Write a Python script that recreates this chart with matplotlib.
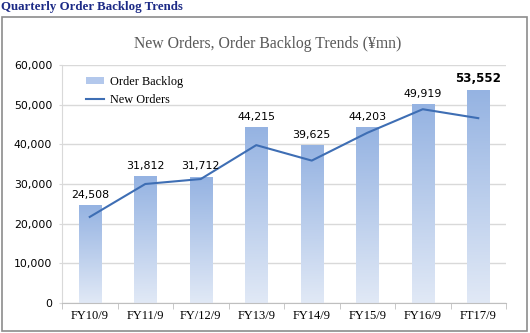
import numpy as np
import matplotlib.pyplot as plt
from matplotlib.colors import LinearSegmentedColormap
from matplotlib.patches import Rectangle, Patch
from matplotlib.lines import Line2D
from matplotlib.ticker import FuncFormatter, FixedLocator

# quarterly figures, in millions of yen
periods = ["FY10/9", "FY11/9", "FY/12/9", "FY13/9", "FY14/9", "FY15/9", "FY16/9", "FT17/9"]
backlog = [24508, 31812, 31712, 44215, 39625, 44203, 49919, 53552]
new_orders = [21700, 30000, 31250, 39800, 35900, 42900, 48850, 46600]

serif = "Liberation Serif"
sans = "DejaVu Sans"
bar_cmap = LinearSegmentedColormap.from_list("bar", ["#e1e9f6", "#95b3e2"])

fig = plt.figure(figsize=(5.3, 3.33), dpi=100)
ax = fig.add_axes([62 / 530, 1 - 303 / 333, 444 / 530, 238 / 333])

# outer frame of the panel
fig.patches.append(Rectangle((2 / 530, 2 / 333), 525 / 530, 314 / 333,
                             transform=fig.transFigure, fill=False,
                             edgecolor="#8c8c8c", linewidth=1.2))

fig.text(1 / 530, 1 - 7 / 333, "Quarterly Order Backlog Trends", family=serif,
         fontweight="bold", fontsize=9.3, color="#1c2a86", ha="left", va="center")
fig.text(268 / 530, 1 - 44 / 333, "New Orders, Order Backlog Trends (\u00a5mn)",
         family=serif, fontsize=11.3, color="#595959", ha="center", va="center")

x = np.arange(len(periods))
w = 0.4
grad = np.linspace(0, 1, 256).reshape(-1, 1)
for xi, v in zip(x, backlog):
    ax.imshow(grad, cmap=bar_cmap, origin="lower", aspect="auto",
              extent=[xi - w / 2, xi + w / 2, 0, v], zorder=2)

ax.plot(x, new_orders, color="#3e6eb4", linewidth=1.5, zorder=3)

for i, (xi, v) in enumerate(zip(x, backlog)):
    last = i == len(backlog) - 1
    ax.annotate(f"{v:,}", (xi, v), xytext=(0, 9 if last else 8),
                textcoords="offset points", ha="center", va="center",
                family=sans, fontsize=8.6 if last else 7.9,
                fontweight="bold" if last else "normal", color="#000000")

ax.set_xlim(-0.5, len(periods) - 0.5)
ax.set_ylim(0, 60000)
ax.set_yticks(np.arange(0, 60001, 10000))
ax.yaxis.set_major_formatter(FuncFormatter(lambda v, p: f"{int(v):,}"))
ax.set_xticks(x)
ax.set_xticklabels(periods, family=serif, fontsize=9)
ax.xaxis.set_minor_locator(FixedLocator(np.arange(-0.5, len(periods), 1)))
for lab in ax.get_yticklabels():
    lab.set_family(sans)
    lab.set_fontsize(7.8)

ax.grid(axis="y", color="#d9d9d9", linewidth=1, zorder=0)
ax.set_axisbelow(True)
for s in ["top", "right"]:
    ax.spines[s].set_visible(False)
ax.spines["left"].set_color("#d9d9d9")
ax.spines["bottom"].set_color("#bfbfbf")
ax.tick_params(axis="y", length=2, color="#d9d9d9", pad=5)
ax.tick_params(axis="x", which="major", length=0, pad=5)
ax.tick_params(axis="x", which="minor", length=4, color="#bfbfbf")

handles = [Patch(facecolor="#b3c8ec", edgecolor="none"),
           Line2D([], [], color="#3e6eb4", linewidth=1.5)]
ax.legend(handles, ["Order Backlog", "New Orders"], loc="upper left",
          bbox_to_anchor=(0.054, 0.955), frameon=False, borderpad=0,
          borderaxespad=0, prop={"family": serif, "size": 8.8},
          handlelength=1.5, handleheight=0.55, labelspacing=0.55,
          handletextpad=0.5)

fig.savefig("out.png", dpi=100)
